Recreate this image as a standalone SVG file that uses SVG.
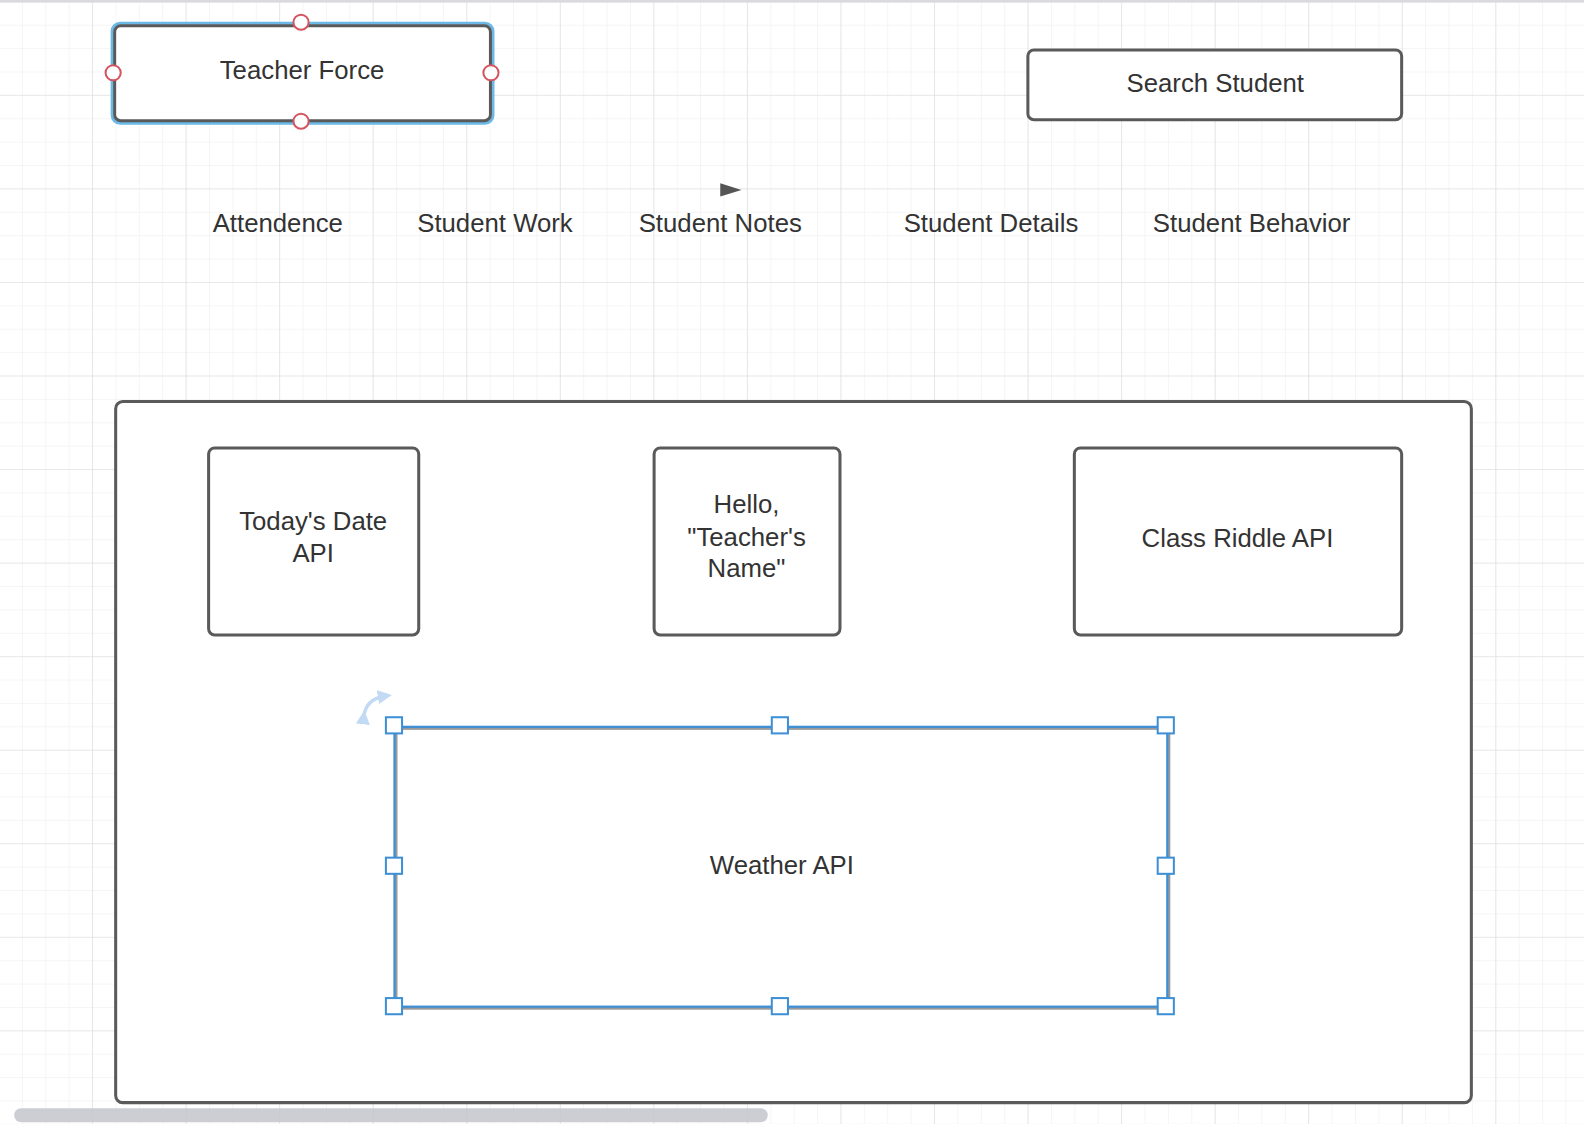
<svg xmlns="http://www.w3.org/2000/svg" width="1584" height="1124" viewBox="0 0 1584 1124">
<defs>
<pattern id="minor" x="-0.5" y="2.3" width="23.3875" height="23.3875" patternUnits="userSpaceOnUse">
<path d="M23.3875 0V23.3875M0 23.3875H23.3875" fill="none" stroke="#ececec" stroke-width="1"/>
</pattern>
<pattern id="major" x="-0.5" y="2.3" width="93.55" height="93.55" patternUnits="userSpaceOnUse">
<path d="M93.55 0V93.55M0 93.55H93.55" fill="none" stroke="#dcdcdc" stroke-width="1.2"/>
</pattern>
<marker id="rotHead" viewBox="0 0 10 10" refX="5" refY="5" markerWidth="4" markerHeight="4" orient="auto">
<path d="M0 0L10 5L0 10Z" fill="#c3daf4"/>
</marker>
<style>
.node{fill:#fff;stroke:#5a5a5a;stroke-width:3}
.lbl{font-family:"Liberation Sans",Arial,sans-serif;font-size:25.5px;fill:#333;text-anchor:middle}
.anchor{fill:#fff;stroke:#d4545f;stroke-width:2}
.handle{fill:#fff;stroke:#3d8fd6;stroke-width:2}
</style>
</defs>
<rect width="1584" height="1124" fill="#fff"/>
<rect width="1584" height="1124" fill="url(#minor)"/>
<rect width="1584" height="1124" fill="url(#major)"/>
<rect x="0" y="0" width="1584" height="2.5" fill="#d9dadd"/>

<g transform="scale(1.0102)">
<g id="teacher-force">
<rect x="111" y="23" width="377" height="99" rx="8" fill="none" stroke="#6ab9e6" stroke-width="3"/>
<rect x="113.5" y="25.5" width="372" height="94" rx="6" class="node"/>
<text x="299" y="78" class="lbl">Teacher Force</text>
<circle cx="298" cy="22" r="7.5" class="anchor"/>
<circle cx="112" cy="72" r="7.5" class="anchor"/>
<circle cx="486" cy="72" r="7.5" class="anchor"/>
<circle cx="298" cy="120" r="7.5" class="anchor"/>
</g>

<g id="search-student">
<rect x="1017.5" y="49.5" width="370" height="69" rx="6" class="node"/>
<text x="1203" y="91" class="lbl">Search Student</text>
</g>

<g id="attendence"><text x="275" y="230" class="lbl">Attendence</text></g>
<g id="student-work"><text x="490" y="230" class="lbl">Student Work</text></g>
<g id="student-notes"><text x="713" y="230" class="lbl">Student Notes</text></g>
<g id="student-details"><text x="981" y="230" class="lbl">Student Details</text></g>
<g id="student-behavior"><text x="1239" y="230" class="lbl">Student Behavior</text></g>

<g id="connectors">
<path d="M713 181.5L734 188L713 194.5Z" fill="#555"/>
</g>

<g id="container">
<rect x="114.5" y="397.5" width="1342" height="694" rx="7" class="node"/>
</g>

<g id="todays-date">
<rect x="206.5" y="443.5" width="208" height="185" rx="6" class="node"/>
<text x="310" y="525" class="lbl">Today's Date</text>
<text x="310" y="556" class="lbl">API</text>
</g>

<g id="hello">
<rect x="647.5" y="443.5" width="184" height="185" rx="6" class="node"/>
<text x="739" y="508" class="lbl">Hello,</text>
<text x="739" y="540" class="lbl">"Teacher's</text>
<text x="739" y="571" class="lbl">Name"</text>
</g>

<g id="class-riddle">
<rect x="1063.5" y="443.5" width="324" height="185" rx="6" class="node"/>
<text x="1225" y="541" class="lbl">Class Riddle API</text>
</g>

<g id="weather">
<rect x="392" y="721" width="765" height="277" fill="#fff" stroke="#9a9a9a" stroke-width="3"/>
<rect x="390.5" y="719.5" width="765" height="277" fill="none" stroke="#3d8fd6" stroke-width="2.2"/>
<text x="774" y="865" class="lbl">Weather API</text>
<rect x="382" y="710" width="16" height="16" class="handle"/>
<rect x="764" y="710" width="16" height="16" class="handle"/>
<rect x="1146" y="710" width="16" height="16" class="handle"/>
<rect x="382" y="849" width="16" height="16" class="handle"/>
<rect x="1146" y="849" width="16" height="16" class="handle"/>
<rect x="382" y="988" width="16" height="16" class="handle"/>
<rect x="764" y="988" width="16" height="16" class="handle"/>
<rect x="1146" y="988" width="16" height="16" class="handle"/>
<path d="M360 710Q362 692 381 689" fill="none" stroke="#c3daf4" stroke-width="3.5" marker-start="url(#rotHead)" marker-end="url(#rotHead)"/>
</g>

<rect x="14" y="1097" width="746" height="14" rx="7" fill="#c4c6cc" fill-opacity="0.85"/>
</g>
</svg>
